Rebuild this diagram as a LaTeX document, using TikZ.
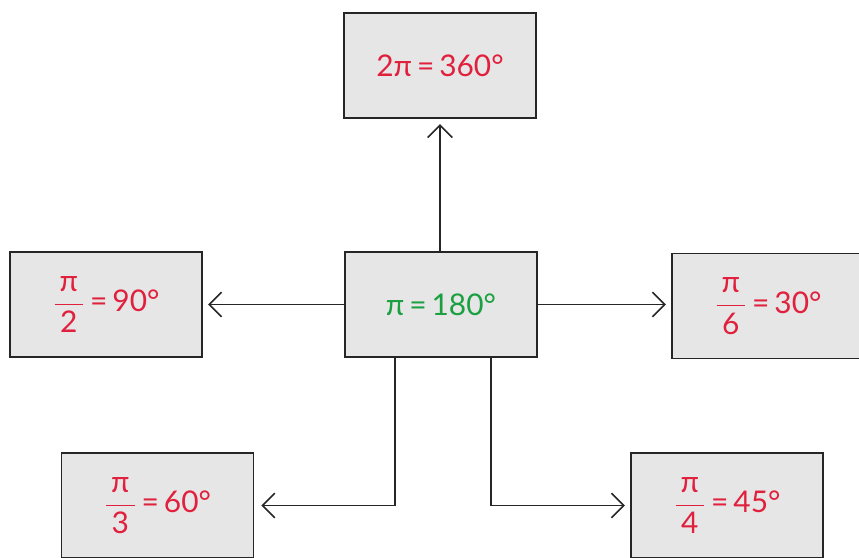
\documentclass[tikz,border=0pt]{standalone}
\usepackage{amsmath}
\usepackage{fontspec}
\setmainfont{Lato}
\usepackage{xcolor}
\usetikzlibrary{arrows.meta}
\definecolor{angred}{HTML}{E0203C}
\definecolor{anggreen}{HTML}{1AA040}
\definecolor{boxgray}{HTML}{E6E6E6}
\newcommand{\fr}[2]{$\dfrac{\,\text{#1}\,}{\,\text{#2}\,}$}

\begin{document}
\begin{tikzpicture}[x=0.02cm,y=-0.02cm,
                    box/.style={draw=black!85,fill=boxgray,line width=1pt,
                                minimum width=3.84cm,minimum height=2.1cm,
                                font=\fontsize{17}{20}\selectfont,text=angred},
                    arr/.style={-{Straight Barb[length=7pt,width=14pt]},line width=0.9pt,black!85}]
    \useasboundingbox (0,0) rectangle (859,558);
    \node[box] (top) at (440,65.5) {2π\,=\,360°};
    \node[box,text=anggreen] (mid) at (441,304.5) {π\,=\,180°};
    \node[box] (half) at (106,304.5) {\fr{π}{2}\,=\,90°};
    \node[box] (sixth) at (768,306) {\fr{π}{6}\,=\,30°};
    \node[box] (third) at (157.5,505.5) {\fr{π}{3}\,=\,60°};
    \node[box] (quarter) at (727,505.5) {\fr{π}{4}\,=\,45°};
    \coordinate (lft) at (395,0);
    \coordinate (rgt) at (491,0);
    \draw[arr] (top.south |- mid.north) -- ([yshift=-3pt]top.south);
    \draw[arr] (mid.west) -- ([xshift=3pt]half.east);
    \draw[arr] (mid.east) -- ([xshift=-3pt]sixth.west |- mid.east);
    \draw[arr] (mid.south -| lft) |- ([xshift=4pt]third.east);
    \draw[arr] (mid.south -| rgt) |- ([xshift=-3pt]quarter.west);
\end{tikzpicture}
\end{document}
